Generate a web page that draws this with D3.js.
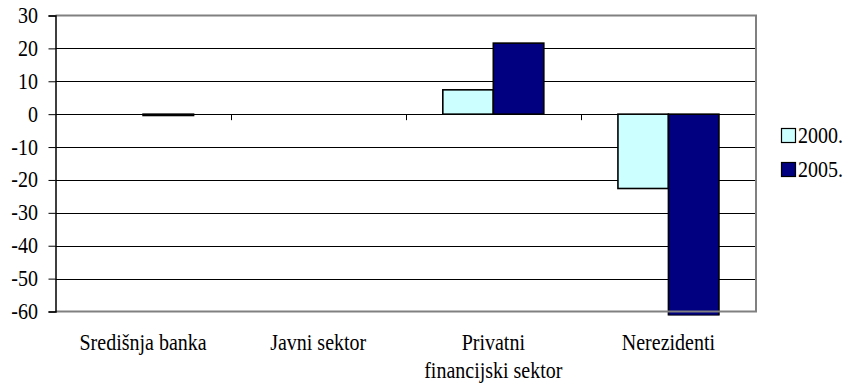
<!DOCTYPE html>
<html><head><meta charset="utf-8">
<script src="https://cdn.jsdelivr.net/npm/d3@7"></script>
<style>body{margin:0;background:#fff}svg{display:block}</style>
</head><body><svg id="c" width="848" height="389"></svg>
<script>
const categories = [["Središnja banka"], ["Javni sektor"], ["Privatni", "financijski sektor"], ["Nerezidenti"]];
const seriesNames = ["2000.", "2005."];
const values2000 = [0, 0, 7.4, -22.6];
const values2005 = [-0.4, 0, 21.6, -61.2];
const colors = ["#CCFFFF", "#000080"];
const yTicks = [30, 20, 10, 0, -10, -20, -30, -40, -50, -60];

const FS = 20, SY = 1.15;
const svg = d3.select("#c");
const L = 55.5, R = 756, T = 15.5, B = 311.5;
const x = d3.scaleBand().domain(d3.range(categories.length)).range([L, R]);
const y = d3.scaleLinear().domain([-60, 30]).range([B, T]);

function label(g, tx, ty, txt, anchor) {
  return g.append("text")
    .attr("transform", `translate(${tx},${ty}) scale(1,${SY})`)
    .attr("text-anchor", anchor || "start")
    .attr("font-size", FS).attr("fill", "#000")
    .style("font-family", "'Times New Roman', 'Liberation Serif', 'DejaVu Serif', serif")
    .text(txt);
}

svg.append("g").selectAll("line").data(yTicks.filter(d => d !== 30 && d !== -60)).join("line")
  .attr("x1", L).attr("x2", R).attr("y1", d => Math.round(y(d)) + 0.5).attr("y2", d => Math.round(y(d)) + 0.5)
  .attr("stroke", "#000").attr("stroke-width", 1);

const data = [];
categories.forEach((c, i) => {
  [values2000, values2005].forEach((vals, s) => data.push({i, s, v: vals[i]}));
});
const bw = 50.5;
svg.append("defs").append("clipPath").attr("id", "clip").append("rect")
  .attr("x", L).attr("y", T).attr("width", R - L).attr("height", B - T + 4);
svg.append("g").attr("clip-path", "url(#clip)").selectAll("rect").data(data.filter(d => d.v !== 0)).join("rect")
  .attr("x", d => x(d.i) + x.bandwidth() / 2 - bw + d.s * bw)
  .attr("width", bw)
  .attr("y", d => Math.min(y(d.v), y(0)))
  .attr("height", d => Math.abs(y(d.v) - y(0)))
  .attr("fill", d => colors[d.s]).attr("stroke", "#000").attr("stroke-width", 1.6);

svg.append("path").attr("d", `M${L},${T}H${R}V${B}H${L}`).attr("fill", "none").attr("stroke", "#808080").attr("stroke-width", 2);

const yAxis = d3.axisLeft(y).tickValues(yTicks).tickSize(7).tickFormat(() => "");
const ga = svg.append("g").attr("transform", `translate(${L},0)`).call(yAxis);
ga.select(".domain").attr("stroke", "#000").attr("stroke-width", 1.5);
ga.selectAll(".tick line").attr("stroke", "#000");
const yl = svg.append("g");
yTicks.forEach(t => label(yl, 38, y(t) + 7.5, String(t), "end"));

svg.append("g").selectAll("line").data(d3.range(1, categories.length)).join("line")
  .attr("x1", d => Math.round(x(d)) + 0.5).attr("x2", d => Math.round(x(d)) + 0.5).attr("y1", y(0)).attr("y2", y(0) + 6)
  .attr("stroke", "#000");

const cg = svg.append("g");
categories.forEach((lines, i) => {
  lines.forEach((ln, j) => label(cg, x(i) + x.bandwidth() / 2, 349.5 + j * 28, ln, "middle"));
});

const lg = svg.append("g");
seriesNames.forEach((n, i) => {
  const gy = 128 + i * 34;
  lg.append("rect").attr("x", 781.5).attr("y", gy + 0.5).attr("width", 14).attr("height", 14)
    .attr("fill", colors[i]).attr("stroke", "#000").attr("stroke-width", 1.2);
  label(lg, 798, gy + 15, n, "start");
});
</script></body></html>
